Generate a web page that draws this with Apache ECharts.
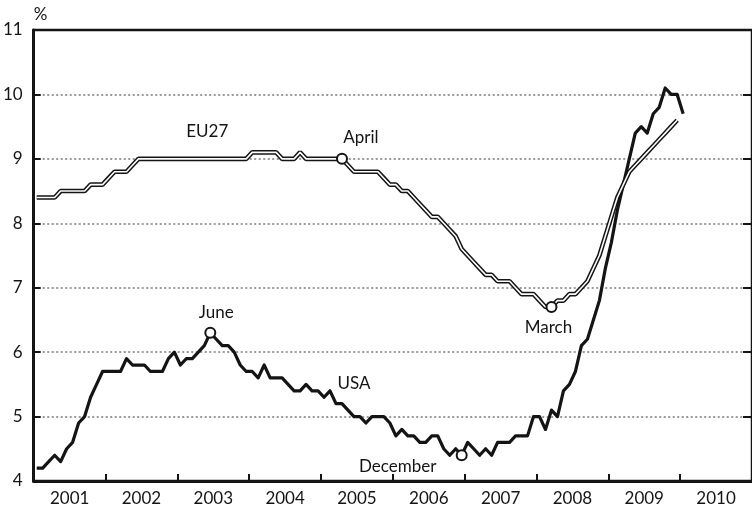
<!DOCTYPE html>
<html>
<head>
    <meta charset="utf-8">
    <title>Unemployment EU27 / USA</title>
    <script src="https://cdn.jsdelivr.net/npm/echarts@6/dist/echarts.min.js"></script>
    <style>
        html, body { margin: 0; padding: 0; background: #fff; }
        #chart1 { width: 752px; height: 511px; }
    </style>
</head>
<body>
<div id="chart1"></div>
<script>
    // monthly values, Jan 2001 onwards
    var years = ['2001', '2002', '2003', '2004', '2005', '2006', '2007', '2008', '2009', '2010'];

    var usa = [
        4.2, 4.2, 4.3, 4.4, 4.3, 4.5, 4.6, 4.9, 5.0, 5.3, 5.5, 5.7,
        5.7, 5.7, 5.7, 5.9, 5.8, 5.8, 5.8, 5.7, 5.7, 5.7, 5.9, 6.0,
        5.8, 5.9, 5.9, 6.0, 6.1, 6.3, 6.2, 6.1, 6.1, 6.0, 5.8, 5.7,
        5.7, 5.6, 5.8, 5.6, 5.6, 5.6, 5.5, 5.4, 5.4, 5.5, 5.4, 5.4,
        5.3, 5.4, 5.2, 5.2, 5.1, 5.0, 5.0, 4.9, 5.0, 5.0, 5.0, 4.9,
        4.7, 4.8, 4.7, 4.7, 4.6, 4.6, 4.7, 4.7, 4.5, 4.4, 4.5, 4.4,
        4.6, 4.5, 4.4, 4.5, 4.4, 4.6, 4.6, 4.6, 4.7, 4.7, 4.7, 5.0,
        5.0, 4.8, 5.1, 5.0, 5.4, 5.5, 5.7, 6.1, 6.2, 6.5, 6.8, 7.3,
        7.7, 8.2, 8.6, 9.0, 9.4, 9.5, 9.4, 9.7, 9.8, 10.1, 10.0, 10.0,
        9.7
    ];

    var eu27 = [
        8.4, 8.4, 8.4, 8.4, 8.5, 8.5, 8.5, 8.5, 8.5, 8.6, 8.6, 8.6,
        8.7, 8.8, 8.8, 8.8, 8.9, 9.0, 9.0, 9.0, 9.0, 9.0, 9.0, 9.0,
        9.0, 9.0, 9.0, 9.0, 9.0, 9.0, 9.0, 9.0, 9.0, 9.0, 9.0, 9.0,
        9.1, 9.1, 9.1, 9.1, 9.1, 9.0, 9.0, 9.0, 9.1, 9.0, 9.0, 9.0,
        9.0, 9.0, 9.0, 9.0, 8.9, 8.8, 8.8, 8.8, 8.8, 8.8, 8.7, 8.6,
        8.6, 8.5, 8.5, 8.4, 8.3, 8.2, 8.1, 8.1, 8.0, 7.9, 7.8, 7.6,
        7.5, 7.4, 7.3, 7.2, 7.2, 7.1, 7.1, 7.1, 7.0, 6.9, 6.9, 6.9,
        6.8, 6.7, 6.7, 6.8, 6.8, 6.9, 6.9, 7.0, 7.1, 7.3, 7.5, 7.8,
        8.1, 8.4, 8.6, 8.8, 8.9, 9.0, 9.1, 9.2, 9.3, 9.4, 9.5, 9.6
    ];

    // month index of the marked points
    var juneIdx = 29, aprilIdx = 51, decIdx = 71, marchIdx = 86;

    var ink = '#141414';
    var font = 'Lato';

    function pts(arr) {
        return arr.map(function (v, i) { return [i + 0.5, v]; });
    }

    var tickVals = [], labelVals = [];
    for (var k = 0; k <= years.length; k++) tickVals.push(k * 12);
    for (var k = 0; k < years.length; k++) labelVals.push(k * 12 + 6);

    var chart = echarts.init(document.getElementById('chart1'), null, {renderer: 'canvas'});

    var option = {
        animation: false,
        backgroundColor: '#fff',
        textStyle: {fontFamily: font},
        grid: {
            left: 33, top: 30, width: 722, height: 451,
            show: true, borderColor: ink, borderWidth: 2.5,
            backgroundColor: 'transparent'
        },
        xAxis: {
            type: 'value',
            min: 0, max: 120, interval: 12,
            axisLine: {show: true, lineStyle: {color: ink, width: 3}},
            axisTick: {show: true, inside: true, length: 7, customValues: tickVals,
                lineStyle: {color: ink, width: 2}},
            axisLabel: {
                customValues: labelVals, margin: 9,
                color: ink, fontSize: 17, fontFamily: font,
                formatter: function (v) { return years[Math.round((v - 6) / 12)]; }
            },
            splitLine: {show: false}
        },
        yAxis: [{
            type: 'value',
            min: 4, max: 11, interval: 1,
            name: '%', nameLocation: 'end', nameGap: 7,
            nameTextStyle: {color: ink, fontSize: 17, fontFamily: font, align: 'left'},
            axisLine: {show: true, lineStyle: {color: ink, width: 3}},
            axisTick: {show: true, inside: true, length: 7, lineStyle: {color: ink, width: 2}},
            axisLabel: {color: ink, fontSize: 17, fontFamily: font, margin: 11},
            splitLine: {
                show: true, showMinLine: false, showMaxLine: false,
                lineStyle: {color: '#999', width: 2, type: [2, 2.5]}
            }
        }, {
            type: 'value',
            position: 'right',
            min: 4, max: 11, interval: 1,
            axisLine: {show: false},
            axisTick: {show: true, inside: true, length: 9, lineStyle: {color: ink, width: 2}},
            axisLabel: {show: false},
            splitLine: {show: false}
        }],
        series: [{
            name: 'USA',
            type: 'line',
            data: pts(usa),
            symbol: 'none',
            lineStyle: {color: ink, width: 3.2, join: 'round'},
            z: 2
        }, {
            name: 'EU27 outer',
            type: 'line',
            data: pts(eu27),
            symbol: 'none',
            lineStyle: {color: ink, width: 4.6},
            z: 3
        }, {
            name: 'EU27',
            type: 'line',
            data: pts(eu27),
            symbol: 'none',
            lineStyle: {color: '#fff', width: 1.6},
            z: 4
        }, {
            name: 'marks',
            type: 'scatter',
            symbol: 'circle',
            symbolSize: 10,
            itemStyle: {color: '#fff', borderColor: ink, borderWidth: 2, opacity: 1},
            label: {
                show: true, position: 'inside', formatter: '{b}',
                color: ink, fontSize: 17, fontFamily: font
            },
            data: [
                {name: 'June', value: [juneIdx + 0.5, usa[juneIdx]], label: {offset: [6, -20]}},
                {name: 'April', value: [aprilIdx + 0.5, eu27[aprilIdx]], label: {offset: [19, -21]}},
                {name: 'December', value: [decIdx + 0.5, usa[decIdx]], label: {offset: [-64, 11]}},
                {name: 'March', value: [marchIdx + 0.5, eu27[marchIdx]], label: {offset: [-3, 20]}}
            ],
            z: 5
        }, {
            name: 'names',
            type: 'scatter',
            symbolSize: 0,
            silent: true,
            itemStyle: {opacity: 1},
            label: {
                show: true, position: 'inside', formatter: '{b}',
                color: ink, fontSize: 17, fontFamily: font
            },
            data: [
                {name: 'EU27', value: [29, 9.43]},
                {name: 'USA', value: [53.5, 5.52]}
            ],
            z: 5
        }]
    };

    chart.setOption(option);
</script>
</body>
</html>
